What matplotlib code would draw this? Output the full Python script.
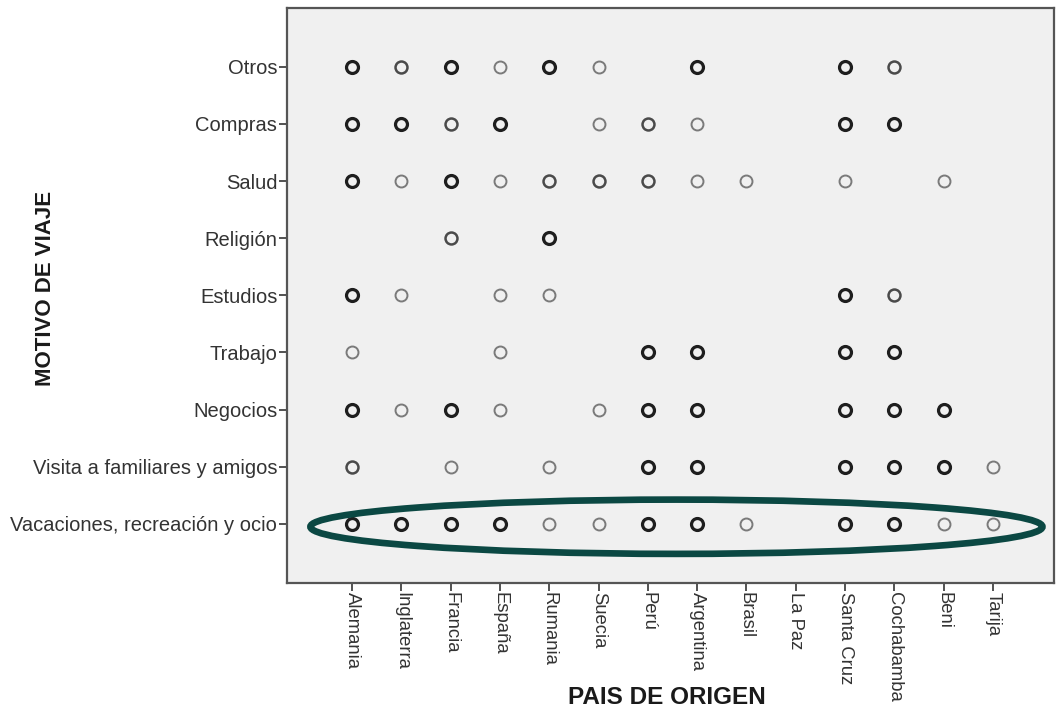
import numpy as np
import matplotlib
matplotlib.use('Agg')
import matplotlib.pyplot as plt
from matplotlib.patches import Ellipse

plt.rcParams['font.family'] = ['Liberation Sans', 'DejaVu Sans']

# categories
origenes = ['Alemania', 'Inglaterra', 'Francia', 'España', 'Rumania', 'Suecia', 'Perú',
            'Argentina', 'Brasil', 'La Paz', 'Santa Cruz', 'Cochabamba', 'Beni', 'Tarija']
motivos = ['Vacaciones, recreación y ocio', 'Visita a familiares y amigos', 'Negocios',
           'Trabajo', 'Estudios', 'Religión', 'Salud', 'Compras', 'Otros']

# overlap level per origin (0 = no case, 1 = few, 2 = some, 3 = many)
vacaciones = [3, 3, 3, 3, 1, 1, 3, 3, 1, 0, 3, 3, 1, 1]
visita     = [2, 0, 1, 0, 1, 0, 3, 3, 0, 0, 3, 3, 3, 1]
negocios   = [3, 1, 3, 1, 0, 1, 3, 3, 0, 0, 3, 3, 3, 0]
trabajo    = [1, 0, 0, 1, 0, 0, 3, 3, 0, 0, 3, 3, 0, 0]
estudios   = [3, 1, 0, 1, 1, 0, 0, 0, 0, 0, 3, 2, 0, 0]
religion   = [0, 0, 2, 0, 3, 0, 0, 0, 0, 0, 0, 0, 0, 0]
salud      = [3, 1, 3, 1, 2, 2, 2, 1, 1, 0, 1, 0, 1, 0]
compras    = [3, 3, 2, 3, 0, 1, 2, 1, 0, 0, 3, 3, 0, 0]
otros      = [3, 2, 3, 1, 3, 1, 0, 3, 0, 0, 3, 2, 0, 0]
niveles = [vacaciones, visita, negocios, trabajo, estudios, religion, salud, compras, otros]

# marker look per level
edge_col = {1: '#7a7a7a', 2: '#4a4a4a', 3: '#1e1e1e'}
edge_w   = {1: 1.4, 2: 1.8, 3: 2.3}

fig = plt.figure(figsize=(10.59, 7.15), dpi=100)
ax = fig.add_axes([0.271, 0.185, 0.7243, 0.8038])
ax.set_facecolor('#f0f0f0')

for iy, fila in enumerate(niveles):
    for ix, lv in enumerate(fila):
        if lv == 0:
            continue
        ax.plot(ix, iy, 'o', ms=8.6, mfc='none', mec=edge_col[lv], mew=edge_w[lv], zorder=3)

# highlight for the first motive
ax.add_patch(Ellipse((6.58, -0.05), 14.85, 0.95, fill=False, ec='#0b4843', lw=4.8, zorder=4))

ax.set_xlim(-1.32, 14.24)
ax.set_ylim(-1.03, 9.03)
ax.set_xticks(range(len(origenes)))
ax.set_xticklabels(origenes, rotation=-90, fontsize=13.3, color='#333333')
ax.set_yticks(range(len(motivos)))
ax.set_yticklabels(motivos, fontsize=14.5, color='#333333')
ax.tick_params(axis='both', direction='out', length=6, width=1.3, color='#444444', pad=1)

for s in ax.spines.values():
    s.set_color('#555555')
    s.set_linewidth(1.6)

fig.text(0.63, 0.024, 'PAIS DE ORIGEN', ha='center', va='center', fontsize=17.5, fontweight='bold', color='#1a1a1a')
fig.text(0.0425, 0.596, 'MOTIVO DE VIAJE', ha='center', va='center', rotation=90, fontsize=16, fontweight='bold', color='#1a1a1a')

plt.savefig('out.png', dpi=100)
